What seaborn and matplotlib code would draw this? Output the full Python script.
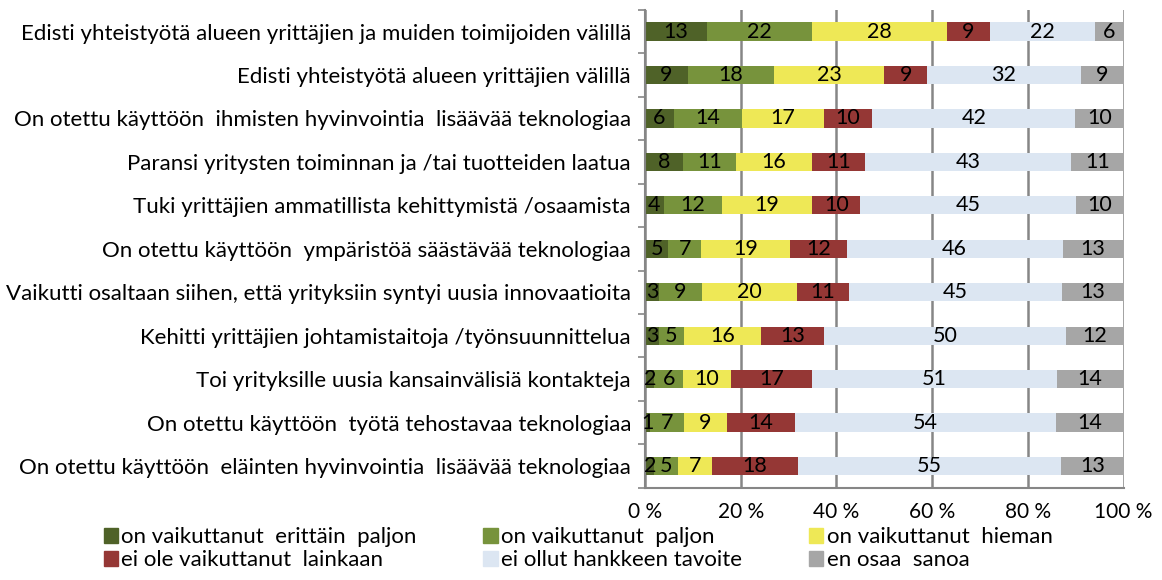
import numpy as np
import pandas as pd
import seaborn as sns
import matplotlib.pyplot as plt

# Statements (top to bottom)
statements = [
    "Edisti yhteistyötä alueen yrittäjien ja muiden toimijoiden välillä",
    "Edisti yhteistyötä alueen yrittäjien välillä",
    "On otettu käyttöön  ihmisten hyvinvointia  lisäävää teknologiaa",
    "Paransi yritysten toiminnan ja /tai tuotteiden laatua",
    "Tuki yrittäjien ammatillista kehittymistä /osaamista",
    "On otettu käyttöön  ympäristöä säästävää teknologiaa",
    "Vaikutti osaltaan siihen, että yrityksiin syntyi uusia innovaatioita",
    "Kehitti yrittäjien johtamistaitoja /työnsuunnittelua",
    "Toi yrityksille uusia kansainvälisiä kontakteja",
    "On otettu käyttöön  työtä tehostavaa teknologiaa",
    "On otettu käyttöön  eläinten hyvinvointia  lisäävää teknologiaa",
]

answers = [
    "on vaikuttanut  erittäin  paljon",
    "on vaikuttanut  paljon",
    "on vaikuttanut  hieman",
    "ei ole vaikuttanut  lainkaan",
    "ei ollut hankkeen tavoite",
    "en osaa  sanoa",
]

erittain_paljon = [13, 9, 6, 8, 4, 5, 3, 3, 2, 1, 2]
paljon = [22, 18, 14, 11, 12, 7, 9, 5, 6, 7, 5]
hieman = [28, 23, 17, 16, 19, 19, 20, 16, 10, 9, 7]
ei_lainkaan = [9, 9, 10, 11, 10, 12, 11, 13, 17, 14, 18]
ei_tavoite = [22, 32, 42, 43, 45, 46, 45, 50, 51, 54, 55]
en_osaa = [6, 9, 10, 11, 10, 13, 13, 12, 14, 14, 13]

colors = ["#4F6228", "#77933C", "#EEE856", "#953735", "#DCE6F2", "#A6A6A6"]

values = np.array([erittain_paljon, paljon, hieman, ei_lainkaan, ei_tavoite, en_osaa], dtype=float)
totals = values.sum(axis=0)
shares = values / totals * 100
cum = shares.cumsum(axis=0)

plt.rcParams['font.family'] = ['Lato', 'DejaVu Sans']
fig = plt.figure(figsize=(11.62, 5.8), dpi=100)
ax = fig.add_axes([0.555, 0.159, 0.412, 0.824])

# draw stacked bars back-to-front using cumulative sums
for i in range(len(answers) - 1, -1, -1):
    df = pd.DataFrame({"statement": statements, "value": cum[i]})
    sns.barplot(data=df, x="value", y="statement", color=colors[i], orient="h",
                width=0.42, ax=ax, saturation=1, linewidth=0, zorder=2)

# value labels
for i in range(len(answers)):
    starts = cum[i] - shares[i]
    for j, v in enumerate(values[i]):
        ax.text(starts[j] + shares[i][j] / 2, j, f"{int(v)}", ha="center", va="center",
                fontsize=15.5, color="black", zorder=3)

ax.set_xlim(0, 100)
ax.set_ylim(len(statements) - 0.5, -0.5)
ax.set_xticks(np.arange(0, 101, 20))
ax.set_xticklabels([f"{t} %" for t in range(0, 101, 20)], fontsize=15)
ax.tick_params(axis="x", length=0, pad=10)
ax.tick_params(axis="y", length=0, labelsize=16, pad=10)
ax.set_yticks(np.arange(-0.5, len(statements) + 0.5, 1), minor=True)
ax.tick_params(axis="y", which="minor", length=5, color="#868686", width=1.2)
ax.set_xlabel("")
ax.set_ylabel("")
ax.grid(axis="x", color="#868686", linewidth=1.8, zorder=0)
ax.set_axisbelow(True)
for s in ["top", "right"]:
    ax.spines[s].set_visible(False)
for s in ["left", "bottom"]:
    ax.spines[s].set_color("#868686")
    ax.spines[s].set_linewidth(1.5)

handles = [plt.Rectangle((0, 0), 1, 1, color=c) for c in colors]
order = [0, 3, 1, 4, 2, 5]
fig.legend([handles[k] for k in order], [answers[k] for k in order], ncol=3,
           loc="lower left", bbox_to_anchor=(0.072, -0.018), frameon=False,
           prop={"family": ["Lato", "DejaVu Sans"], "size": 16},
           handlelength=0.65, handleheight=0.65, handletextpad=0.15,
           columnspacing=3.0, labelspacing=0.15)

fig.savefig("out.png", dpi=100)
